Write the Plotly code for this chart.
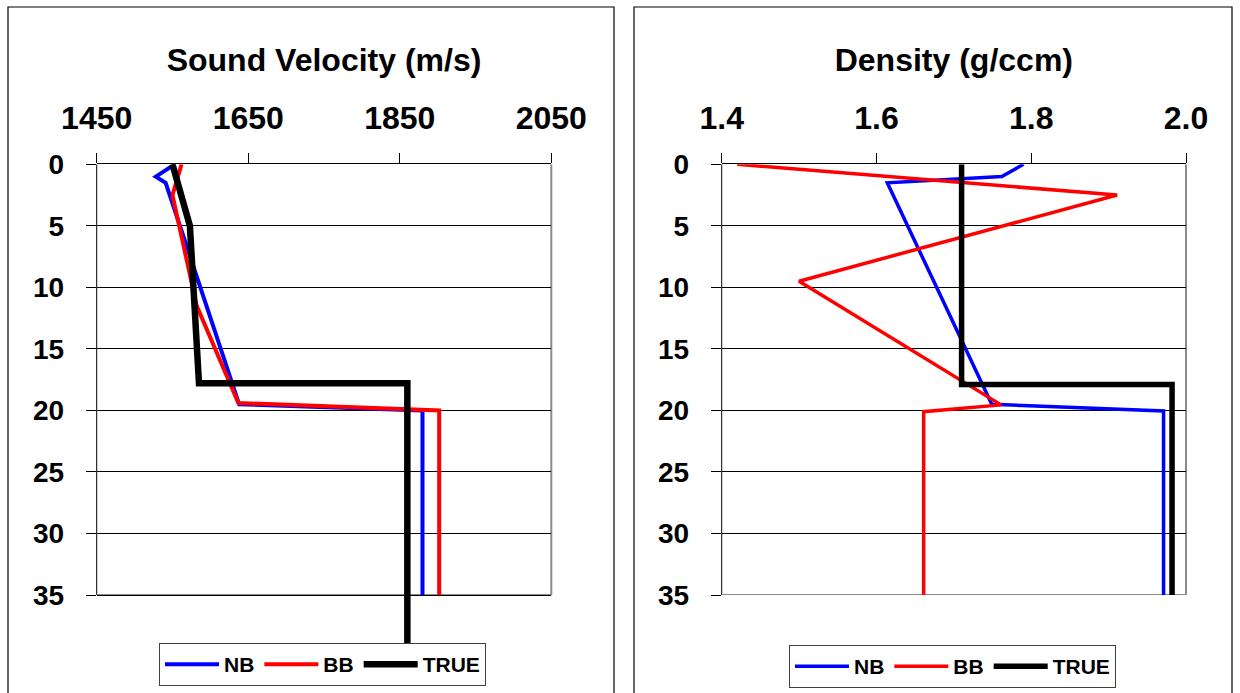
import plotly.graph_objects as go

W, H = 1240, 693

# Sound velocity profiles: depth (m) and velocity (m/s)
vel_nb_depth = [0, 1.0, 1.5, 19.5, 20.0, 35]
vel_nb = [1553, 1528, 1541, 1638, 1880, 1880]
vel_bb_depth = [0, 2.5, 11.5, 19.4, 20.0, 35]
vel_bb = [1562, 1550, 1582, 1637, 1902, 1902]
vel_true_depth = [0, 5, 17.8, 17.8, 40]
vel_true = [1550, 1573, 1585, 1860, 1860]

# Density profiles: depth (m) and density (g/ccm)
den_nb_depth = [0, 1.0, 1.5, 19.5, 20.05, 35]
den_nb = [1.79, 1.762, 1.614, 1.749, 1.971, 1.971]
den_bb_depth = [0, 2.5, 9.5, 19.55, 20.1, 35]
den_bb = [1.42, 1.911, 1.50, 1.761, 1.661, 1.661]
den_true_depth = [0, 17.9, 17.9, 35]
den_true = [1.71, 1.71, 1.982, 1.982]

series_names = ["NB", "BB", "TRUE"]
vel_ticks = [1450, 1650, 1850, 2050]
den_ticks = [1.4, 1.6, 1.8, 2.0]
depth_ticks = [0, 5, 10, 15, 20, 25, 30, 35]
DEPTH_MAX = 35

FONT = "Liberation Sans, Arial, sans-serif"
BLUE, RED, BLACK = "#0000FF", "#FF0000", "#000000"
GREY = "#8a8a8a"


def fx(p):
    return p / W


def fy(p):
    return 1 - p / H


# plot-area geometry in pixels
TOP, BOT = 164.3, 595.0
L_X0, L_X1 = 96.7, 551.3
R_X0, R_X1 = 721.7, 1186.0
# the velocity panel's data area runs on below the framed area, down to its legend
EXT_BOT = 643.0
ext_depth = DEPTH_MAX * (EXT_BOT - TOP) / (BOT - TOP)

fig = go.Figure()

fig.add_trace(go.Scatter(x=vel_nb, y=vel_nb_depth, name=series_names[0], mode="lines",
                         line=dict(color=BLUE, width=4), xaxis="x", yaxis="y", legend="legend"))
fig.add_trace(go.Scatter(x=vel_bb, y=vel_bb_depth, name=series_names[1], mode="lines",
                         line=dict(color=RED, width=4), xaxis="x", yaxis="y", legend="legend"))
fig.add_trace(go.Scatter(x=vel_true, y=vel_true_depth, name=series_names[2], mode="lines",
                         line=dict(color=BLACK, width=6.5), xaxis="x", yaxis="y", legend="legend"))

fig.add_trace(go.Scatter(x=den_nb, y=den_nb_depth, name=series_names[0], mode="lines",
                         line=dict(color=BLUE, width=3.5), xaxis="x2", yaxis="y2", legend="legend2"))
fig.add_trace(go.Scatter(x=den_bb, y=den_bb_depth, name=series_names[1], mode="lines",
                         line=dict(color=RED, width=3.5), xaxis="x2", yaxis="y2", legend="legend2"))
fig.add_trace(go.Scatter(x=den_true, y=den_true_depth, name=series_names[2], mode="lines",
                         line=dict(color=BLACK, width=5.5), xaxis="x2", yaxis="y2", legend="legend2"))

tick_font_x = dict(family=FONT, size=32, color="black", weight="bold")
tick_font_y = dict(family=FONT, size=28, color="black", weight="bold")
title_font = dict(family=FONT, size=32, color="black", weight="bold")


def x_axis(domain, rng, ticks, title, anchor, fmt=None):
    d = dict(domain=domain, range=rng, side="top", anchor=anchor,
             tickmode="array", tickvals=ticks,
             ticks="outside", ticklen=10, tickwidth=1, tickcolor="black",
             showline=True, linecolor="black", linewidth=1,
             showgrid=False, zeroline=False, automargin=False,
             tickfont=tick_font_x, ticklabelstandoff=12,
             title=dict(text=title, font=title_font, standoff=18),
             fixedrange=True)
    if fmt:
        d["tickformat"] = fmt
    return d


def y_axis(domain, rng, anchor):
    return dict(domain=domain, range=rng, anchor=anchor,
                tickmode="array", tickvals=depth_ticks,
                ticks="outside", ticklen=10, tickwidth=1, tickcolor="black",
                showline=False,
                showgrid=True, gridcolor="black", gridwidth=1, zeroline=False,
                automargin=False,
                tickfont=tick_font_y, ticklabelstandoff=16, fixedrange=True)


legend_common = dict(orientation="h", bgcolor="white", bordercolor="#404040", borderwidth=1,
                     font=dict(family=FONT, size=21, color="black", weight="bold"),
                     itemwidth=54, xanchor="left", yanchor="top", tracegroupgap=0)

fig.update_layout(
    template="none",
    width=W, height=H, margin=dict(l=0, r=0, t=0, b=0, pad=0, autoexpand=False),
    paper_bgcolor="white", plot_bgcolor="rgba(0,0,0,0)",
    xaxis=x_axis([fx(L_X0), fx(L_X1)], [1450, 2050], vel_ticks, "Sound Velocity (m/s)", "y"),
    yaxis=y_axis([fy(EXT_BOT), fy(TOP)], [ext_depth, 0], "x"),
    xaxis2=x_axis([fx(R_X0), fx(R_X1)], [1.4, 2.0], den_ticks, "Density (g/ccm)", "y2", ".1f"),
    yaxis2=y_axis([fy(BOT), fy(TOP)], [DEPTH_MAX, 0], "x2"),
    legend=dict(x=fx(159), y=fy(643), **legend_common),
    legend2=dict(x=fx(789), y=fy(645), **legend_common),
    showlegend=True,
)

# chart-area frames
fig.add_shape(type="rect", xref="paper", yref="paper", x0=fx(8), x1=fx(614), y0=-0.1, y1=fy(7),
              line=dict(color="black", width=1.2), layer="below")
fig.add_shape(type="rect", xref="paper", yref="paper", x0=fx(634), x1=fx(1232), y0=-0.1, y1=fy(7),
              line=dict(color="black", width=1.2), layer="below")

# plot-area borders: black value axis on the left, grey on the right and bottom
for xr, yr in (("x", "y"), ("x2", "y2")):
    fig.add_shape(type="line", xref=f"{xr} domain", yref=yr, x0=0, x1=0, y0=0, y1=DEPTH_MAX,
                  line=dict(color="black", width=1), layer="below")
    fig.add_shape(type="line", xref=f"{xr} domain", yref=yr, x0=1, x1=1, y0=0, y1=DEPTH_MAX,
                  line=dict(color=GREY, width=2), layer="below")
    fig.add_shape(type="line", xref=f"{xr} domain", yref=yr, x0=0, x1=1, y0=DEPTH_MAX, y1=DEPTH_MAX,
                  line=dict(color=GREY, width=2), layer="below")

fig.write_html("out.html")
